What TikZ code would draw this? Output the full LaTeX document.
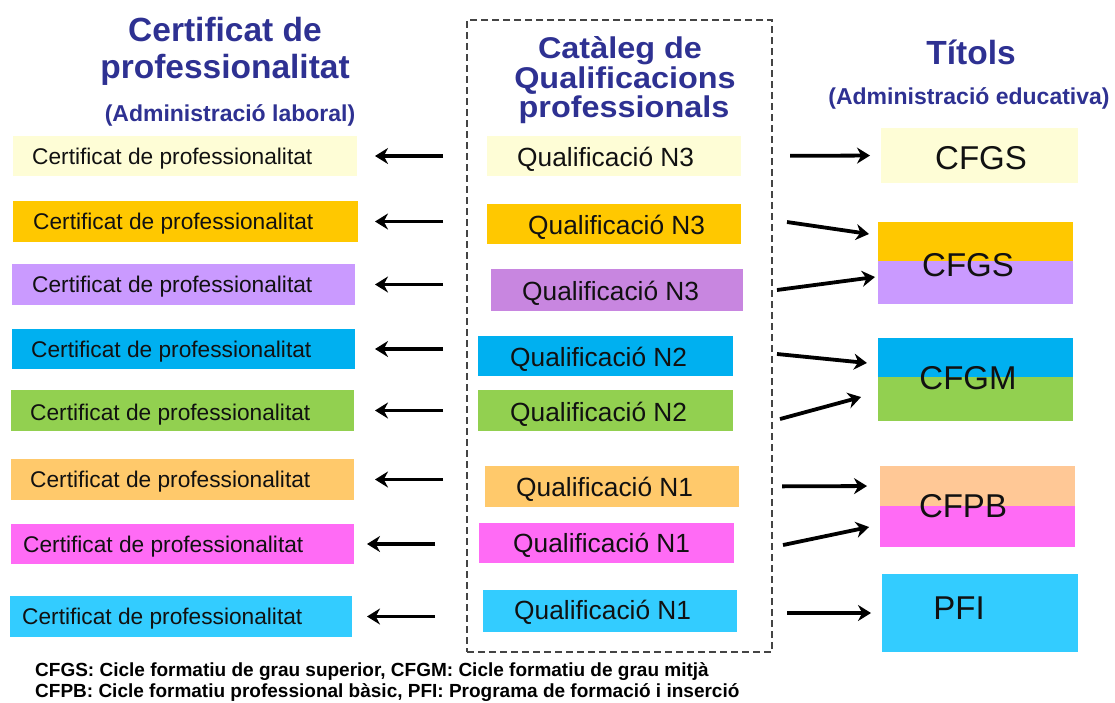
\documentclass[tikz,border=0pt]{standalone}
\usepackage{fontspec}
\setmainfont{Liberation Sans}
\newfontfamily\widesans[FakeStretch=1.08]{Liberation Sans}
\usetikzlibrary{arrows.meta,calc}
\definecolor{navy}{HTML}{2E3192}
\definecolor{txt}{HTML}{111111}
\definecolor{cLY}{HTML}{FEFDD6}
\definecolor{cGold}{HTML}{FFC800}
\definecolor{cLav}{HTML}{CA9AFF}
\definecolor{cPur}{HTML}{C886E0}
\definecolor{cBlue}{HTML}{00B0F0}
\definecolor{cGreen}{HTML}{92D050}
\definecolor{cLOr}{HTML}{FFC96B}
\definecolor{cMag}{HTML}{FF6BF5}
\definecolor{cSky}{HTML}{33CCFF}
\definecolor{cPeach}{HTML}{FFC896}
\definecolor{frame}{HTML}{444444}
\begin{document}
\begin{tikzpicture}[x=1pt,y=-1pt,
  box/.style={rectangle, inner sep=0pt, outer sep=0pt, draw=none, anchor=north west},
  ltext/.style={inner sep=0pt, anchor=base west, text=txt, font=\fontsize{22.7}{26}\selectfont},
  mtext/.style={inner sep=0pt, anchor=base west, text=txt, font=\fontsize{26.3}{30}\selectfont},
  rtext/.style={inner sep=0pt, text=txt, font=\fontsize{33}{38}\selectfont},
  headbig/.style={inner sep=0pt, anchor=base, text=navy, font=\bfseries\fontsize{33.5}{37}\selectfont},
  headmid/.style={inner sep=0pt, anchor=base, text=navy, font=\widesans\bfseries\fontsize{30}{34}\selectfont},
  headsub/.style={inner sep=0pt, anchor=base, text=navy, font=\bfseries\fontsize{23}{27}\selectfont},
  foot/.style={inner sep=0pt, anchor=base west, text=black, font=\bfseries\fontsize{19}{22}\selectfont},
  arr/.style={-{Stealth[length=13pt,width=16pt]}, line width=3.8pt, draw=black}
]
\useasboundingbox (0,0) rectangle (1115,702);

% dashed frame of the catalogue
\node[box, draw=frame, dashed, dash pattern=on 7pt off 4pt, line width=1.5pt,
      minimum width=305pt, minimum height=632pt] (frame) at (467,20) {};

% headers
\node[headbig] (hL1) at (225,41) {Certificat de};
\node[headbig] (hL2) at (225,78) {professionalitat};
\node[headsub] (hL3) at (230,121) {(Administració laboral)};
\node[headmid] (hM1) at (620,58) {Catàleg de};
\node[headmid] (hM2) at (625,88) {Qualificacions};
\node[headmid] (hM3) at (624,117) {professionals};
\node[headbig] (hR1) at (971,64) {Títols};
\node[headsub] (hR2) at (969,104) {(Administració educativa)};

% left boxes
\node[box, fill=cLY,    minimum width=344pt, minimum height=40pt] (L1) at (13,136) {};
\node[box, fill=cGold,  minimum width=345pt, minimum height=41pt] (L2) at (13,201) {};
\node[box, fill=cLav,   minimum width=343pt, minimum height=41pt] (L3) at (12,264) {};
\node[box, fill=cBlue,  minimum width=343pt, minimum height=40pt] (L4) at (12,329) {};
\node[box, fill=cGreen, minimum width=343pt, minimum height=41pt] (L5) at (11,390) {};
\node[box, fill=cLOr,   minimum width=343pt, minimum height=41pt] (L6) at (11,459) {};
\node[box, fill=cMag,   minimum width=343pt, minimum height=40pt] (L7) at (11,524) {};
\node[box, fill=cSky,   minimum width=342pt, minimum height=41pt] (L8) at (10,596) {};
\node[ltext] (lt1) at (32,164.5) {Certificat de professionalitat};
\node[ltext] (lt2) at (33,229.5) {Certificat de professionalitat};
\node[ltext] (lt3) at (32,292.5) {Certificat de professionalitat};
\node[ltext] (lt4) at (31,357.5) {Certificat de professionalitat};
\node[ltext] (lt5) at (30,420.5) {Certificat de professionalitat};
\node[ltext] (lt6) at (30,487.5) {Certificat de professionalitat};
\node[ltext] (lt7) at (23,552.5) {Certificat de professionalitat};
\node[ltext] (lt8) at (22,624.5) {Certificat de professionalitat};

% middle boxes
\node[box, fill=cLY,    minimum width=254pt, minimum height=40pt] (M1) at (487,136) {};
\node[box, fill=cGold,  minimum width=254pt, minimum height=40pt] (M2) at (487,204) {};
\node[box, fill=cPur,   minimum width=252pt, minimum height=42pt] (M3) at (491,269) {};
\node[box, fill=cBlue,  minimum width=255pt, minimum height=40pt] (M4) at (478,336) {};
\node[box, fill=cGreen, minimum width=255pt, minimum height=41pt] (M5) at (478,390) {};
\node[box, fill=cLOr,   minimum width=254pt, minimum height=41pt] (M6) at (485,466) {};
\node[box, fill=cMag,   minimum width=255pt, minimum height=40pt] (M7) at (479,523) {};
\node[box, fill=cSky,   minimum width=254pt, minimum height=42pt] (M8) at (483,590) {};
\node[mtext] (mt1) at (517,166) {Qualificació N3};
\node[mtext] (mt2) at (528,234) {Qualificació N3};
\node[mtext] (mt3) at (522,300) {Qualificació N3};
\node[mtext] (mt4) at (510,366) {Qualificació N2};
\node[mtext] (mt5) at (510,421) {Qualificació N2};
\node[mtext] (mt6) at (516,496) {Qualificació N1};
\node[mtext] (mt7) at (513,552) {Qualificació N1};
\node[mtext] (mt8) at (514,619) {Qualificació N1};

% right boxes
\node[box, fill=cLY,    minimum width=197pt, minimum height=55pt] (T1) at (881,128) {};
\node[box, fill=cGold,  minimum width=195pt, minimum height=39pt] (T2a) at (878,222) {};
\node[box, fill=cLav,   minimum width=195pt, minimum height=43pt] (T2b) at (878,261) {};
\node[box, fill=cBlue,  minimum width=195pt, minimum height=39pt] (T3a) at (878,338) {};
\node[box, fill=cGreen, minimum width=195pt, minimum height=44pt] (T3b) at (878,377) {};
\node[box, fill=cPeach, minimum width=195pt, minimum height=40pt] (T4a) at (880,466) {};
\node[box, fill=cMag,   minimum width=195pt, minimum height=41pt] (T4b) at (880,506) {};
\node[box, fill=cSky,   minimum width=196pt, minimum height=78pt] (T5) at (882,574) {};
\node[rtext] (rt1) at (981,158) {CFGS};
\node[rtext] (rt2) at (968,265) {CFGS};
\node[rtext] (rt3) at (968,378) {CFGM};
\node[rtext] (rt4) at (963,506) {CFPB};
\node[rtext] (rt5) at (959,608) {PFI};

% arrows to the certificates
\draw[arr, shorten <=44pt, shorten >=18pt] (M1.west |- L1.east) -- (L1.east);
\draw[arr, shorten <=44pt, shorten >=17pt] (M2.west |- L2.east) -- (L2.east);
\draw[arr, shorten <=48pt, shorten >=20pt] (M3.west |- L3.east) -- (L3.east);
\draw[arr, shorten <=35pt, shorten >=20pt] (M4.west |- L4.east) -- (L4.east);
\draw[arr, shorten <=35pt, shorten >=21pt] (M5.west |- L5.east) -- (L5.east);
\draw[arr, shorten <=42pt, shorten >=21pt] (M6.west |- L6.east) -- (L6.east);
\draw[arr, shorten <=44pt, shorten >=13pt] (M7.west |- L7.east) -- (L7.east);
\draw[arr, shorten <=48pt, shorten >=15pt] (M8.west |- L8.east) -- (L8.east);

% arrows to the titles
\draw[arr, shorten <=49pt, shorten >=11pt] (M1.east) -- (T1.west);
\draw[arr, shorten <=46.5pt, shorten >=9.1pt] ([yshift=8.7pt]M2.east) -- ([yshift=6.2pt]T2a.west);
\draw[arr, shorten <=34.3pt, shorten >=3pt] ([yshift=-4.5pt]M3.east) -- ([yshift=5.9pt]T2b.west);
\draw[arr, shorten <=44.2pt, shorten >=11.1pt] ([yshift=6.4pt]M4.east) -- ([yshift=-6.6pt]T3a.west);
\draw[arr, shorten <=48.7pt, shorten >=17.6pt] ([yshift=-21.3pt]M5.east) -- ([yshift=6.6pt]T3b.west);
\draw[arr, shorten <=43pt, shorten >=13pt] (M6.east) -- (T4a.west);
\draw[arr, shorten <=50.1pt, shorten >=11.2pt] ([yshift=-12.3pt]M7.east) -- ([yshift=1.8pt]T4b.west);
\draw[arr, shorten <=50pt, shorten >=11pt] ([yshift=-2pt]M8.east) -- (T5.west);

% footer
\node[foot] (f1) at (35,676) {CFGS: Cicle formatiu de grau superior, CFGM: Cicle formatiu de grau mitjà};
\node[foot] (f2) at (35,697) {CFPB: Cicle formatiu professional bàsic, PFI: Programa de formació i inserció};
\end{tikzpicture}
\end{document}
